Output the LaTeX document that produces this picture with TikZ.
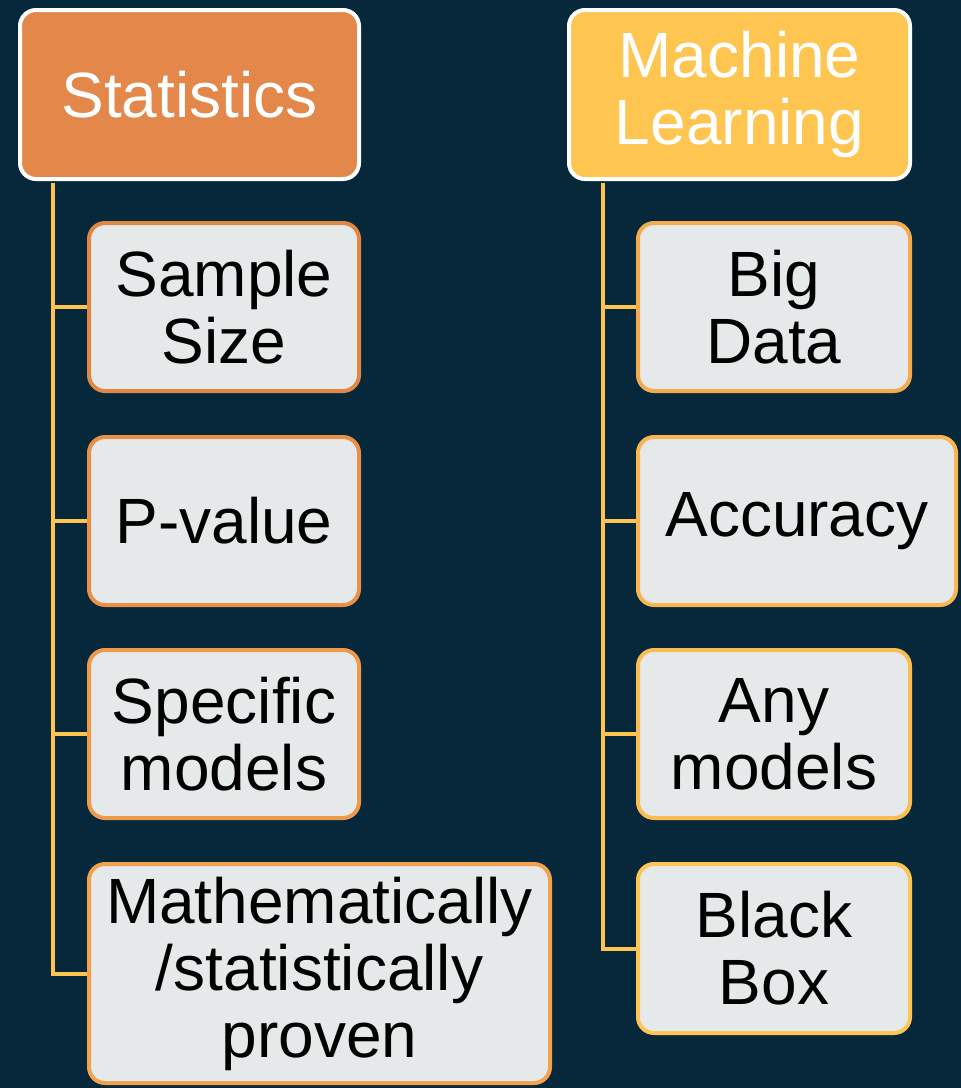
\documentclass[tikz,border=0pt]{standalone}
\usepackage{fontspec}
\setmainfont{Liberation Sans}
\definecolor{bg}{HTML}{06283A}
\definecolor{statfill}{HTML}{E3884A}
\definecolor{mlfill}{HTML}{FFC551}
\definecolor{cardfill}{HTML}{E6E9EA}
\definecolor{trunk}{HTML}{FFC34F}
\definecolor{edgeA}{HTML}{E08744}
\definecolor{edgeB}{HTML}{E88F48}
\definecolor{edgeC}{HTML}{EE9A4B}
\definecolor{edgeD}{HTML}{F2A24D}
\definecolor{edgeE}{HTML}{F5AA4E}
\definecolor{edgeF}{HTML}{F8B550}
\definecolor{edgeG}{HTML}{FBBC52}
\definecolor{edgeH}{HTML}{FFC552}
\begin{document}
\begin{tikzpicture}[x=1pt,y=-1pt,
  txt/.style={font=\fontsize{64}{67}\selectfont, align=center, inner sep=0pt},
  headbox/.style={txt, rounded corners=16pt, draw=white, line width=4pt, text=white,
    minimum height=169pt},
  card/.style={txt, rounded corners=16pt, fill=cardfill, line width=4pt, text=black,
    minimum height=168pt},
  link/.style={draw=trunk, line width=4pt}]

% backdrop
\fill[bg] (0,0) rectangle (961,1088);

% column headers
\node[headbox, fill=statfill, minimum width=339pt] (st) at (189.5,94.5) {Statistics};
\node[headbox, fill=mlfill, minimum width=341pt] (ml) at (739.5,94.5) {Machine\\Learning};

% statistics column
\node[card, draw=edgeA, minimum width=270pt] (s1) at (224,307) {Sample\\Size};
\node[card, draw=edgeB, minimum width=270pt] (s2) at (224,521) {P-value};
\node[card, draw=edgeC, minimum width=270pt] (s3) at (224,734) {Specific\\models};
\node[card, draw=edgeD, minimum width=461pt, minimum height=219pt] (s4) at (319.5,973.5)
  {Mathematically\\/statistically\\proven};

% machine learning column
\node[card, draw=edgeE, minimum width=272pt] (m1) at (774,307) {Big\\Data};
\node[card, draw=edgeF, minimum width=318pt] (m2) at (797,521) {Accuracy};
\node[card, draw=edgeG, minimum width=272pt] (m3) at (774,734) {Any\\models};
\node[card, draw=edgeH, minimum width=272pt, minimum height=169pt] (m4) at (774,948.5) {Black\\Box};

% trunk lines and branches
\coordinate (lt) at ([xshift=35pt,yshift=-2pt]st.south west);
\coordinate (rt) at ([xshift=36pt,yshift=-2pt]ml.south west);

\draw[link] (lt) |- (s4.west);
\draw[link] (s1.west -| lt) -- (s1.west);
\draw[link] (s2.west -| lt) -- (s2.west);
\draw[link] (s3.west -| lt) -- (s3.west);

\draw[link] (rt) |- (m4.west);
\draw[link] (m1.west -| rt) -- (m1.west);
\draw[link] (m2.west -| rt) -- (m2.west);
\draw[link] (m3.west -| rt) -- (m3.west);
\end{tikzpicture}
\end{document}
